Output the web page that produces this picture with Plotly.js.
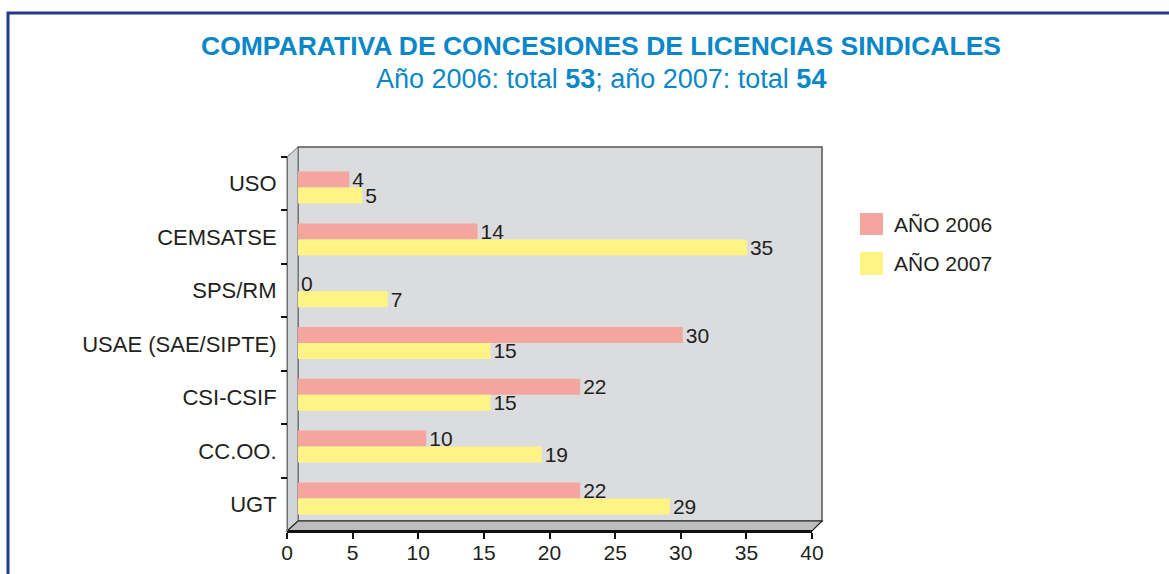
<!DOCTYPE html>
<html>
<head>
<meta charset="utf-8">
<script src="https://cdn.plot.ly/plotly-3.0.1.min.js"></script>
<style>html,body{margin:0;padding:0;background:#fff;}#chart{width:1169px;height:574px;}</style>
</head>
<body>
<div id="chart"></div>
<script>
const categories = ['USO', 'CEMSATSE', 'SPS/RM', 'USAE (SAE/SIPTE)', 'CSI-CSIF', 'CC.OO.', 'UGT'];
const values2006 = [4, 14, 0, 30, 22, 10, 22];
const values2007 = [5, 35, 7, 15, 15, 19, 29];
const seriesNames = ['AÑO 2006', 'AÑO 2007'];
const xTicks = [0, 5, 10, 15, 20, 25, 30, 35, 40];

const W = 1169, H = 574;
const L = 287, R = 822, T = 147, B = 531;
const px = x => (x - L) / (R - L);
const py = y => (B - y) / (B - T);

const textColor = '#231f20';
const pink = '#f4a69e', yellow = '#fff385';
const blue = '#0a87c8';
const fs = 21;

const traces = [
  {type:'bar', orientation:'h', name:seriesNames[0], y:categories, x:values2006,
   marker:{color:pink}, text:values2006.map(String), textposition:'outside', constraintext:'none',
   cliponaxis:false, textfont:{size:fs, color:textColor}, xaxis:'x', yaxis:'y', hoverinfo:'x+y', showlegend:false},
  {type:'bar', orientation:'h', name:seriesNames[1], y:categories, x:values2007,
   marker:{color:yellow}, text:values2007.map(String), textposition:'outside', constraintext:'none',
   cliponaxis:false, textfont:{size:fs, color:textColor}, xaxis:'x', yaxis:'y', hoverinfo:'x+y', showlegend:false},
  {type:'scatter', mode:'markers', x:categories.map(()=>0), y:categories, xaxis:'x2', yaxis:'y2',
   marker:{opacity:0}, hoverinfo:'skip', showlegend:false}
];

const shapes = [
  {type:'rect', xref:'paper', yref:'paper', x0:px(8), x1:px(1300), y0:py(13), y1:py(700),
   line:{color:'#233a8c', width:3}, fillcolor:'rgba(0,0,0,0)', layer:'below'},
  {type:'rect', xref:'paper', yref:'paper', x0:px(298), x1:px(822), y0:py(521), y1:py(147),
   fillcolor:'#dbdcde', line:{color:'#555555', width:1.5}, layer:'below'},
  {type:'path', xref:'paper', yref:'paper',
   path:`M ${px(287)} ${py(157)} L ${px(298)} ${py(147)} L ${px(298)} ${py(521)} L ${px(287)} ${py(531)} Z`,
   fillcolor:'#d3d4d6', line:{color:'#6d6e70', width:1}, layer:'below'},
  {type:'path', xref:'paper', yref:'paper',
   path:`M ${px(287)} ${py(531)} L ${px(298)} ${py(521)} L ${px(822)} ${py(521)} L ${px(812)} ${py(531)} Z`,
   fillcolor:'#bcbdbf', line:{color:'#222222', width:1.2}, layer:'below'},
  {type:'rect', xref:'paper', yref:'paper', x0:px(860), x1:px(883), y0:py(235), y1:py(213),
   fillcolor:pink, line:{width:0}},
  {type:'rect', xref:'paper', yref:'paper', x0:px(860), x1:px(883), y0:py(275), y1:py(252),
   fillcolor:yellow, line:{width:0}}
];

const annotations = [
  {xref:'paper', yref:'paper', x:px(601), y:py(79), xanchor:'center', yanchor:'middle', showarrow:false,
   text:'Año 2006: total <b>53</b>; año 2007: total <b>54</b>', font:{size:27, color:blue}},
  {xref:'paper', yref:'paper', x:px(892), y:py(224), xanchor:'left', yanchor:'middle', showarrow:false,
   text:seriesNames[0], font:{size:fs, color:textColor}},
  {xref:'paper', yref:'paper', x:px(892), y:py(263.5), xanchor:'left', yanchor:'middle', showarrow:false,
   text:seriesNames[1], font:{size:fs, color:textColor}}
];

const layout = {
  width:W, height:H,
  margin:{l:L, r:W-R, t:T, b:H-B, pad:0},
  paper_bgcolor:'#ffffff', plot_bgcolor:'rgba(0,0,0,0)',
  font:{family:'"Liberation Sans", Arial, Helvetica, sans-serif', color:textColor, size:fs},
  title:{text:'<b>COMPARATIVA DE CONCESIONES DE LICENCIAS SINDICALES</b>', font:{size:26.5, color:blue},
         xref:'container', yref:'container', x:601/W, y:1-46/H, xanchor:'center', yanchor:'middle'},
  barmode:'group', bargap:0.383, bargroupgap:0,
  showlegend:false,
  xaxis:{domain:[px(298), px(811)], range:[0,40], visible:false, fixedrange:true},
  yaxis:{domain:[py(524.3), py(161.7)], type:'category', categoryarray:categories, categoryorder:'array',
         range:[categories.length-0.5, -0.5], visible:false, fixedrange:true},
  xaxis2:{domain:[0, px(812)], range:[0,40], anchor:'free', position:0, tickvals:xTicks,
          ticks:'outside', ticklen:6, tickwidth:2, tickcolor:'#111', showline:true, linecolor:'#111', linewidth:2.5,
          showgrid:false, zeroline:false, ticklabelstandoff:-4, tickfont:{size:fs, color:textColor}, fixedrange:true},
  yaxis2:{domain:[0, py(157)], type:'category', categoryarray:categories, categoryorder:'array',
          range:[categories.length-0.5, -0.5], anchor:'free', position:0,
          ticks:'outside', tickson:'boundaries', ticklen:6, tickwidth:2, tickcolor:'#111',
          showline:true, linecolor:'#6d6e70', linewidth:1, showgrid:false, zeroline:false,
          ticklabelstandoff:6, tickfont:{size:22, color:textColor}, fixedrange:true},
  shapes:shapes, annotations:annotations
};

Plotly.newPlot('chart', traces, layout, {displayModeBar:false, staticPlot:true});
</script>
</body>
</html>
